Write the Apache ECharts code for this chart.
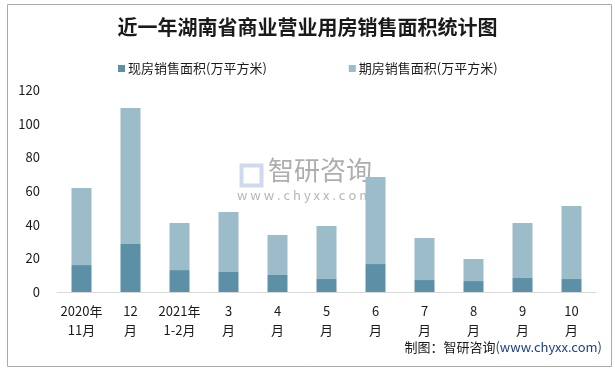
<!DOCTYPE html>
<html><head><meta charset="utf-8">
<script src="https://cdn.jsdelivr.net/npm/echarts@6/dist/echarts.min.js"></script>
<style>html,body{margin:0;padding:0;background:#fff}#c{width:615px;height:368px}</style>
</head><body><div id="c"></div>
<script>
const categories = ['2020年\n11月','12\n月','2021年\n1-2月','3\n月','4\n月','5\n月','6\n月','7\n月','8\n月','9\n月','10\n月'];
const spotArea = [16.0, 28.5, 13.0, 11.9, 10.1, 7.7, 16.6, 7.1, 6.5, 8.3, 7.7];
const futuresArea = [45.8, 80.8, 28.0, 35.6, 23.8, 31.5, 51.7, 25.0, 13.1, 32.7, 43.4];
const seriesNames = ['现房销售面积(万平方米)', '期房销售面积(万平方米)'];
const yTicks = [0, 20, 40, 60, 80, 100, 120];

const font = '"Noto Sans CJK SC", "Liberation Sans", sans-serif';
const chart = echarts.init(document.getElementById('c'), null, {renderer: 'canvas'});
chart.setOption({
  animation: false,
  backgroundColor: '#fff',
  textStyle: {fontFamily: font},
  title: {
    text: '近一年湖南省商业营业用房销售面积统计图',
    left: 'center', top: 12,
    textStyle: {fontSize: 20, fontWeight: 'bold', color: '#1a1a1a', fontFamily: font}
  },
  legend: {
    top: 57, left: 113, itemGap: 82,
    itemWidth: 7, itemHeight: 7, icon: 'rect',
    textStyle: {fontSize: 13, color: '#1a1a1a', fontFamily: font, padding: [0, 0, 0, -2]},
    data: seriesNames
  },
  grid: {left: 57, right: 19, top: 90, bottom: 76},
  xAxis: {
    type: 'category', data: categories,
    axisLine: {lineStyle: {color: '#d9d9d9', width: 1}},
    axisTick: {show: false},
    axisLabel: {fontSize: 13, color: '#1a1a1a', margin: 10, lineHeight: 19, interval: 0, fontFamily: font}
  },
  yAxis: {
    type: 'value', min: yTicks[0], max: yTicks[yTicks.length - 1], interval: 20,
    axisLine: {show: false}, axisTick: {show: false}, splitLine: {show: false},
    axisLabel: {fontSize: 13, color: '#1a1a1a', margin: 17, fontFamily: font}
  },
  series: [
    {name: seriesNames[0], type: 'bar', stack: 'a', data: spotArea, barWidth: 20, itemStyle: {color: '#5c90a6'}},
    {name: seriesNames[1], type: 'bar', stack: 'a', data: futuresArea, barWidth: 20, itemStyle: {color: '#9dbcca'}}
  ],
  graphic: [
    {type: 'rect', left: 5, top: 2, shape: {width: 604, height: 362}, style: {fill: 'none', stroke: '#aaaaaa', lineWidth: 1}, z: -1, silent: true},
    {type: 'text', left: 268, top: 157, style: {text: '智研咨询', font: '26px ' + font, fill: 'rgba(140,140,140,0.7)'}, z: 0},
    {type: 'text', left: 237, top: 189, style: {text: 'w w w . c h y x x . c o m', font: '13px ' + font, fill: 'rgba(150,150,150,0.7)'}, z: 0},
    {type: 'rect', left: 239, top: 163, shape: {width: 20, height: 20}, style: {fill: 'none', stroke: 'rgba(150,170,210,0.45)', lineWidth: 4}, z: 0},
    {type: 'text', right: 13, top: 341, style: {rich: {a: {fontSize: 13, fill: '#1a1a1a', fontFamily: font}, b: {fontSize: 13, fill: '#1f3f86', fontFamily: font}}, text: '{a|制图：智研咨询}{b|(www.chyxx.com)}'}}
  ]
});
</script></body></html>
